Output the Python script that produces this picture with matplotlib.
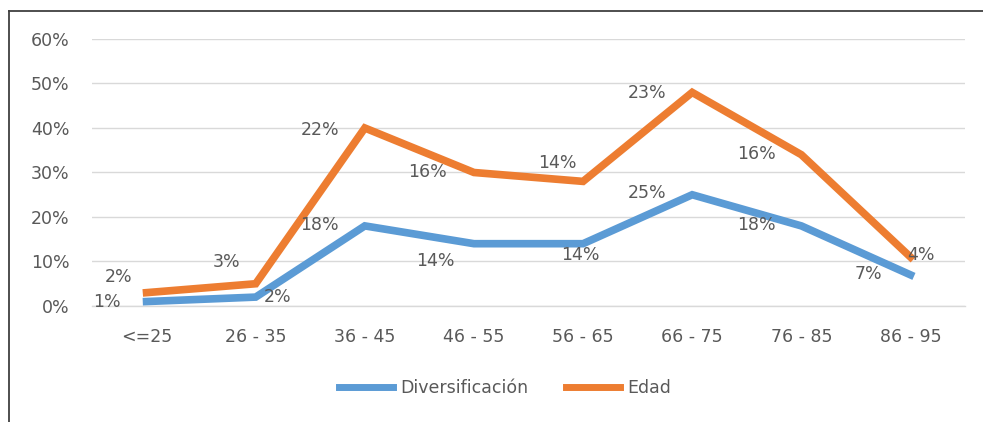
import matplotlib.pyplot as plt
from matplotlib.lines import Line2D

# datos del grafico (lineas apiladas)
categorias = ['<=25', '26 - 35', '36 - 45', '46 - 55', '56 - 65', '66 - 75', '76 - 85', '86 - 95']
diversificacion = [0.01, 0.02, 0.18, 0.14, 0.14, 0.25, 0.18, 0.07]
edad = [0.02, 0.03, 0.22, 0.16, 0.14, 0.23, 0.16, 0.04]
y_ticks = [0, 0.1, 0.2, 0.3, 0.4, 0.5, 0.6]

azul = '#5B9BD5'
naranja = '#ED7D31'
gris = '#595959'
fs = 12.5

plt.rcParams['font.family'] = ['DejaVu Sans']

fig = plt.figure(figsize=(9.83, 4.22), dpi=100)
ax = fig.add_axes([0.0936, 0.2749, 0.8881, 0.6327])

x = list(range(len(categorias)))
acumulado = [d + e for d, e in zip(diversificacion, edad)]

ax.plot(x, diversificacion, color=azul, linewidth=5.5, solid_joinstyle='miter', zorder=3)
ax.plot(x, acumulado, color=naranja, linewidth=5.5, solid_joinstyle='miter', zorder=3)

# desplazamientos de etiquetas (pixeles)
off_azul = [(-40, 0), (22, 0), (-45, 1), (-39, -17), (-3, -11), (-45, 2), (-45, 1), (-42, 1)]
off_naranja = [(-28, 16), (-29, 22), (-45, -2), (-46, 0), (-26, 18), (-45, -1), (-45, 1), (10, 2)]

for i in x:
    ax.annotate('{:.0f}%'.format(diversificacion[i] * 100), (i, diversificacion[i]),
                xytext=off_azul[i], textcoords='offset pixels',
                ha='center', va='center', fontsize=fs, color=gris, zorder=4)
    ax.annotate('{:.0f}%'.format(edad[i] * 100), (i, acumulado[i]),
                xytext=off_naranja[i], textcoords='offset pixels',
                ha='center', va='center', fontsize=fs, color=gris, zorder=4)

ax.set_xlim(-0.5, len(categorias) - 0.5)
ax.set_ylim(0, 0.6)
ax.set_yticks(y_ticks)
ax.set_yticklabels(['{:.0f}%'.format(t * 100) for t in y_ticks])
ax.set_xticks(x)
ax.set_xticklabels(categorias)
ax.tick_params(length=0, labelsize=fs, colors=gris)
ax.tick_params(axis='y', pad=16)
ax.tick_params(axis='x', pad=16)
ax.grid(axis='y', color='#D9D9D9', linewidth=1)
ax.axhline(0, color='#D9D9D9', linewidth=1, clip_on=False, zorder=1)
ax.set_axisbelow(True)
for s in ax.spines.values():
    s.set_visible(False)

handles = [Line2D([], [], color=azul, linewidth=5),
           Line2D([], [], color=naranja, linewidth=5)]
fig.legend(handles, ['Diversificación', 'Edad'], loc='center', bbox_to_anchor=(0.514, 0.081),
           ncol=2, frameon=False, fontsize=fs, labelcolor=gris,
           handlelength=3.1, handletextpad=0.4, columnspacing=2.2)

# borde del grafico
fig.add_artist(Line2D([0.0092, 0.0092], [0, 0.974], color='#404040', linewidth=1.3))
fig.add_artist(Line2D([0.0092, 1], [0.974, 0.974], color='#404040', linewidth=1.3))

fig.savefig('out.png', dpi=100)
